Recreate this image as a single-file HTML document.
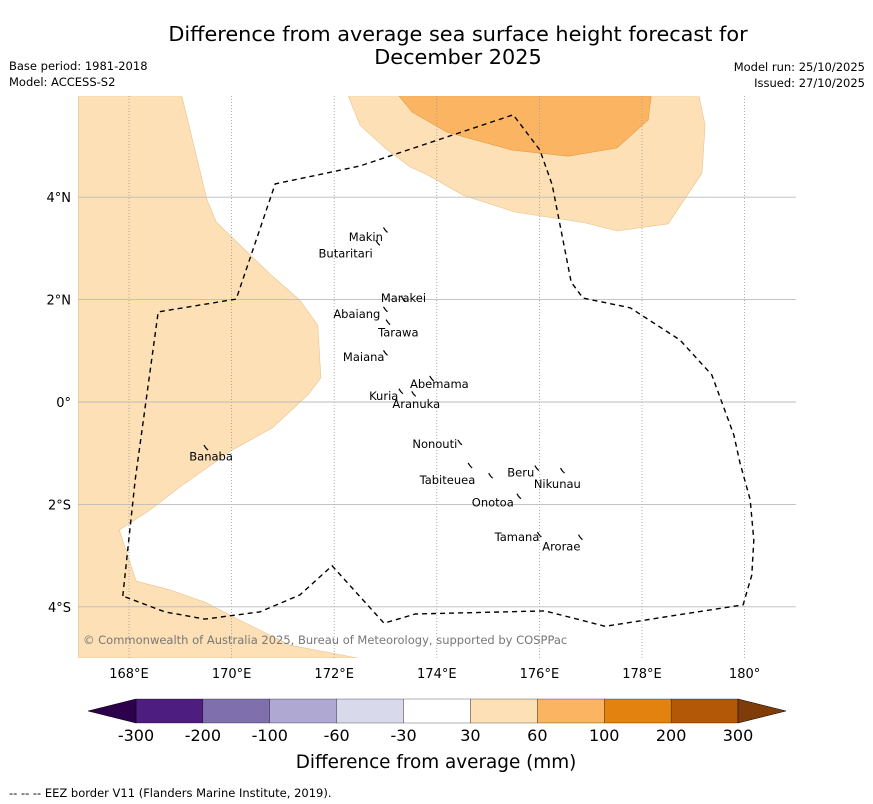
<!DOCTYPE html>
<html><head><meta charset="utf-8"><style>
body{margin:0;background:#fff;}
svg{display:block;font-family:"DejaVu Sans","Liberation Sans",sans-serif;}
</style></head><body>
<svg id="c" width="873" height="804" viewBox="0 0 873 804">
<rect width="873" height="804" fill="#fff"/>
<text x="458" y="41" font-size="20.8" text-anchor="middle">Difference from average sea surface height forecast for</text>
<text x="458" y="64" font-size="20.8" text-anchor="middle">December 2025</text>
<text x="9" y="70" font-size="11.5">Base period: 1981-2018</text>
<text x="9" y="86" font-size="11.5">Model: ACCESS-S2</text>
<text x="865" y="71" font-size="11.5" text-anchor="end">Model run: 25/10/2025</text>
<text x="865" y="87" font-size="11.5" text-anchor="end">Issued: 27/10/2025</text>
<g id="map"></g>
<g id="cbar"></g>
<text x="436" y="768" font-size="18.4" text-anchor="middle">Difference from average (mm)</text>
<text x="9" y="797" font-size="11.5">--  --  -- EEZ border V11 (Flanders Marine Institute, 2019).</text>
</svg>
<script>
const lonTicks=[168,170,172,174,176,178,180];
const lonLabels=["168°E","170°E","172°E","174°E","176°E","178°E","180°"];
const latTicks=[4,2,0,-2,-4];
const latLabels=["4°N","2°N","0°","2°S","4°S"];
const cbLevels=[-300,-200,-100,-60,-30,30,60,100,200,300];
const cbColors=["#4e1d80","#7f70ad","#aea8d2","#d9d9ec","#ffffff","#fde0b6","#fbb562","#e4820f","#b35806"];
const cbLow="#2d004b", cbHigh="#7f3b08";
const lightPoly=[[167.01,5.98],[169.03,5.98],[169.52,3.95],[169.70,3.52],[170.26,2.97],[170.77,2.48],[171.33,1.99],[171.68,1.50],[171.74,0.47],[171.49,0.14],[170.79,-0.51],[170.01,-0.94],[168.99,-1.66],[168.41,-2.11],[167.81,-2.50],[168.14,-3.50],[168.80,-3.67],[169.48,-3.91],[170.16,-4.26],[171.14,-4.75],[172.46,-5.0],[167.01,-5.0]];
const lightPoly2=[[172.27,5.98],[172.50,5.41],[172.99,4.96],[173.48,4.59],[173.83,4.43],[174.51,4.04],[175.52,3.71],[176.89,3.50],[177.51,3.34],[178.51,3.48],[179.17,4.47],[179.23,5.41],[179.11,5.98]];
const orangePoly=[[173.26,5.98],[173.52,5.66],[174.20,5.27],[175.47,4.92],[176.56,4.80],[177.51,4.96],[178.12,5.51],[178.18,5.98]];
const eez=[[167.88,-3.79],[168.12,-1.52],[168.57,1.76],[170.09,2.01],[170.85,4.26],[172.50,4.61],[175.49,5.61],[176.01,4.92],[176.25,4.24],[176.62,2.34],[176.85,2.03],[177.77,1.84],[178.74,1.21],[179.36,0.53],[179.79,-0.64],[179.91,-1.19],[180.11,-1.91],[180.18,-2.70],[180.14,-3.38],[179.97,-3.96],[177.28,-4.38],[176.11,-4.08],[173.58,-4.14],[172.97,-4.32],[171.96,-3.20],[171.33,-3.77],[170.55,-4.10],[169.48,-4.24],[168.70,-4.10],[167.88,-3.79]];
const islands=[["Makin",172.95,3.22,"end"],["Butaritari",172.75,2.9,"end"],["Marakei",173.35,2.03,"middle"],["Abaiang",172.9,1.72,"end"],["Tarawa",173.25,1.36,"middle"],["Maiana",172.98,0.88,"end"],["Abemama",174.05,0.35,"middle"],["Kuria",173.25,0.12,"end"],["Aranuka",173.6,-0.04,"middle"],["Nonouti",174.4,-0.82,"end"],["Banaba",169.6,-1.06,"middle"],["Beru",175.9,-1.38,"end"],["Nikunau",176.35,-1.6,"middle"],["Tabiteuea",174.75,-1.52,"end"],["Onotoa",175.5,-1.96,"end"],["Tamana",176.0,-2.64,"end"],["Arorae",176.8,-2.82,"end"]];
const marks=[[173.0,3.35],[172.85,3.1],[173.35,2.0],[173.0,1.8],[173.05,1.55],[173.0,0.95],[173.9,0.45],[173.3,0.2],[173.55,0.15],[174.45,-0.8],[174.65,-1.25],[175.05,-1.45],[175.95,-1.3],[176.45,-1.35],[175.6,-1.85],[176.0,-2.6],[176.8,-2.65],[169.5,-0.9]];
const X=lon=>129+(lon-168)*51.3, Y=lat=>402-lat*51.2;
const NS="http://www.w3.org/2000/svg";
function mk(t,a,p){const e=document.createElementNS(NS,t);for(const k in a)e.setAttribute(k,a[k]);p.appendChild(e);return e;}
const map=document.getElementById('map');
const clip=mk('clipPath',{id:'cp'},map);mk('rect',{x:78,y:96,width:718,height:562},clip);
const g=mk('g',{'clip-path':'url(#cp)'},map);
const pts=a=>a.map(p=>X(p[0]).toFixed(1)+','+Y(p[1]).toFixed(1)).join(' ');
let e=mk('polygon',{points:pts(lightPoly),fill:'#fde0b6',stroke:'#e8c48f','stroke-width':0.6},g);

e=mk('polygon',{points:pts(lightPoly2),fill:'#fde0b6',stroke:'#e8c48f','stroke-width':0.6},g);

e=mk('polygon',{points:pts(orangePoly),fill:'#fbb562',stroke:'#e49a45','stroke-width':0.6},g);

lonTicks.forEach((v,i)=>{const l=mk('line',{x1:X(v),x2:X(v),y1:96,y2:658,stroke:'#999','stroke-width':0.8,'stroke-dasharray':'1,2'},g);

const t=mk('text',{x:X(v),y:678,'font-size':13,'text-anchor':'middle'},map);t.textContent=lonLabels[i];
});
latTicks.forEach((v,i)=>{const l=mk('line',{x1:78,x2:796,y1:Y(v),y2:Y(v),stroke:'#bbb','stroke-width':0.9},g);

const t=mk('text',{x:71,y:Y(v)+5,'font-size':13,'text-anchor':'end'},map);t.textContent=latLabels[i];
});
e=mk('polyline',{points:pts(eez),fill:'none',stroke:'#000','stroke-width':1.4,'stroke-dasharray':'5,4'},g);

marks.forEach(m=>{const s=mk('path',{d:`M${X(m[0])-2},${Y(m[1])-3} l2,3 l2,2`,stroke:'#000','stroke-width':1.2,fill:'none'},g);
});
islands.forEach(d=>{const t=mk('text',{x:X(d[1]),y:Y(d[2])+4,'font-size':11.5,'text-anchor':d[3]},g);t.textContent=d[0];
});
const cr=mk('text',{x:83,y:644,'font-size':11.5,fill:'#777'},g);cr.textContent='© Commonwealth of Australia 2025, Bureau of Meteorology, supported by COSPPac';

const cb=document.getElementById('cbar');
const cx0=136,cx1=738,cy=699,ch=24,bw=(cx1-cx0)/cbColors.length;
const CX=i=>cx0+i*bw;
cbColors.forEach((c,i)=>{const r=mk('rect',{x:CX(i),y:cy,width:bw,height:ch,fill:c,stroke:'#000','stroke-width':0.3},cb);
});
e=mk('polygon',{points:`${cx0},${cy} ${cx0-48},${cy+ch/2} ${cx0},${cy+ch}`,fill:cbLow,stroke:'#000','stroke-width':0.5},cb);

e=mk('polygon',{points:`${cx1},${cy} ${cx1+48},${cy+ch/2} ${cx1},${cy+ch}`,fill:cbHigh,stroke:'#000','stroke-width':0.5},cb);

cbLevels.forEach((v,i)=>{const t=mk('text',{x:CX(i),y:741,'font-size':16,'text-anchor':'middle'},cb);t.textContent=v;
});
</script>
</body></html>
